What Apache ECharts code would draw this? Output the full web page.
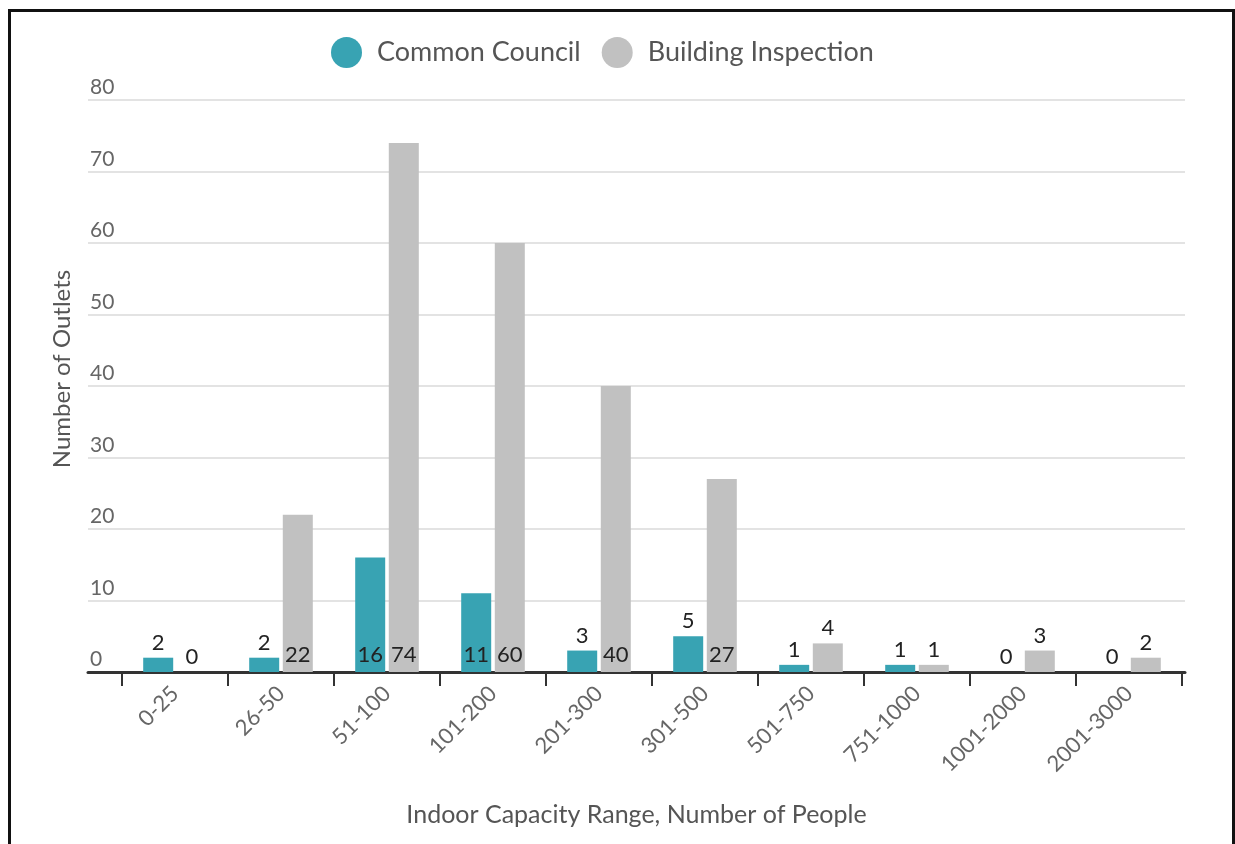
<!DOCTYPE html>
<html>
<head>
<meta charset="utf-8">
<script src="https://cdn.jsdelivr.net/npm/echarts@6/dist/echarts.min.js"></script>
<style>
html,body{margin:0;padding:0;background:#fff;}
#chart{position:absolute;left:0;top:0;width:1235px;height:844px;}
#frame{position:absolute;left:8px;top:9px;width:1221px;height:900px;border:3px solid #111;pointer-events:none;}
</style>
</head>
<body>
<div id="chart"></div>
<div id="frame"></div>
<script>
const categories = ['0-25','26-50','51-100','101-200','201-300','301-500','501-750','751-1000','1001-2000','2001-3000'];
const commonCouncil = [2, 2, 16, 11, 3, 5, 1, 1, 0, 0];
const buildingInspection = [0, 22, 74, 60, 40, 27, 4, 1, 3, 2];
const seriesNames = ['Common Council', 'Building Inspection'];
const yTicks = { min: 0, max: 80, interval: 10 };

const FONT = 'Lato, sans-serif';
const TEAL = '#38a3b3';
const GRAY = '#c1c1c1';

function withLabels(values) {
  return values.map(v => ({
    value: v,
    label: v >= 10
      ? { position: 'insideBottom', distance: 6 }
      : { position: 'top', distance: 4 }
  }));
}

const chart = echarts.init(document.getElementById('chart'), null, { renderer: 'canvas' });
chart.setOption({
  backgroundColor: '#fff',
  animation: false,
  textStyle: { fontFamily: FONT },
  legend: {
    left: 326, top: 32,
    itemWidth: 31, itemHeight: 31, itemGap: 21,
    icon: 'circle',
    textStyle: { fontFamily: FONT, fontSize: 27, color: '#555', padding: [0, 0, 0, 10] },
    data: seriesNames
  },
  grid: [
    { left: 88, right: 50, top: 100, bottom: 172 },
    { left: 122, right: 53, top: 100, bottom: 172 }
  ],
  xAxis: [
    {
      type: 'category', gridIndex: 0, data: categories,
      axisLine: { lineStyle: { color: '#333', width: 3 } },
      axisTick: { show: false }, axisLabel: { show: false },
      name: 'Indoor Capacity Range, Number of People',
      nameLocation: 'middle', nameGap: 130,
      nameTextStyle: { fontFamily: FONT, fontSize: 25, color: '#555' }
    },
    {
      type: 'category', gridIndex: 1, data: categories,
      axisLine: { show: false },
      axisTick: { show: true, length: 14, lineStyle: { color: '#333', width: 2 } },
      axisLabel: { interval: 0, rotate: 45, margin: 18, fontFamily: FONT, fontSize: 22, color: '#666' }
    }
  ],
  yAxis: [
    {
      type: 'value', gridIndex: 0, min: yTicks.min, max: yTicks.max, interval: yTicks.interval,
      axisLine: { show: false }, axisTick: { show: false },
      splitLine: { lineStyle: { color: '#e3e3e3', width: 2 } },
      axisLabel: { inside: true, margin: 2, verticalAlign: 'bottom', padding: [0, 0, 2, 0],
                   fontFamily: FONT, fontSize: 21, color: '#666' }
    },
    {
      type: 'value', gridIndex: 1, min: yTicks.min, max: yTicks.max, interval: yTicks.interval,
      show: false, splitLine: { show: false }
    }
  ],
  graphic: [{
    type: 'text', x: 62, y: 369, rotation: Math.PI / 2,
    style: { text: 'Number of Outlets', fontFamily: FONT, fontSize: 24, fill: '#555',
             align: 'center', verticalAlign: 'middle' }
  }],
  series: [
    {
      name: seriesNames[0], type: 'bar', xAxisIndex: 1, yAxisIndex: 1,
      barWidth: 30, barGap: '12%',
      itemStyle: { color: TEAL },
      label: { show: true, fontFamily: FONT, fontSize: 22, color: '#222' },
      data: withLabels(commonCouncil)
    },
    {
      name: seriesNames[1], type: 'bar', xAxisIndex: 1, yAxisIndex: 1,
      barWidth: 30, barGap: '12%',
      itemStyle: { color: GRAY },
      label: { show: true, fontFamily: FONT, fontSize: 22, color: '#222' },
      data: withLabels(buildingInspection)
    }
  ]
});
</script>
</body>
</html>
